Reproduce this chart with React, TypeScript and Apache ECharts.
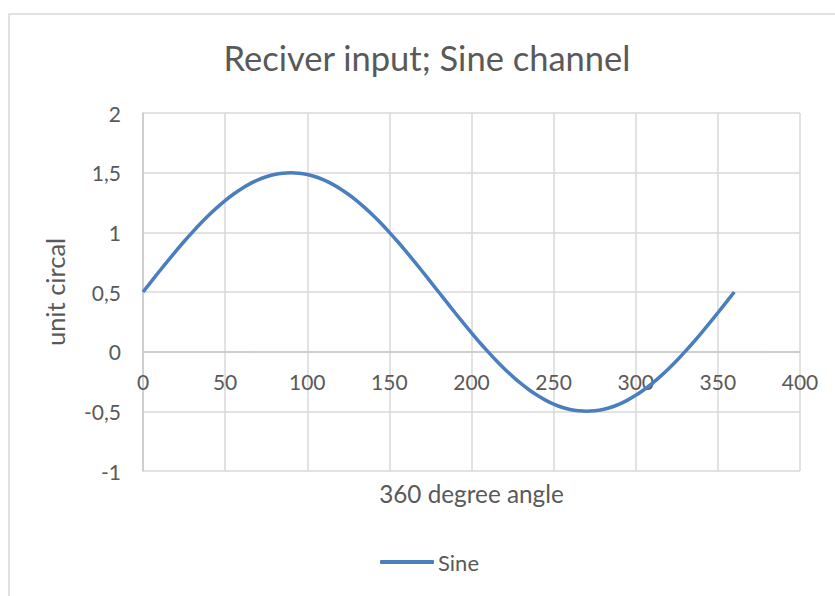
import React, { useEffect, useRef } from "react";
import * as echarts from "echarts";

const angles = [0, 5, 10, 15, 20, 25, 30, 35, 40, 45, 50, 55, 60, 65, 70, 75, 80, 85, 90, 95, 100, 105, 110, 115, 120, 125, 130, 135, 140, 145, 150, 155, 160, 165, 170, 175, 180, 185, 190, 195, 200, 205, 210, 215, 220, 225, 230, 235, 240, 245, 250, 255, 260, 265, 270, 275, 280, 285, 290, 295, 300, 305, 310, 315, 320, 325, 330, 335, 340, 345, 350, 355, 360];
const sineValues = [0.5, 0.587, 0.674, 0.759, 0.842, 0.923, 1.0, 1.074, 1.143, 1.207, 1.266, 1.319, 1.366, 1.406, 1.44, 1.466, 1.485, 1.496, 1.5, 1.496, 1.485, 1.466, 1.44, 1.406, 1.366, 1.319, 1.266, 1.207, 1.143, 1.074, 1.0, 0.923, 0.842, 0.759, 0.674, 0.587, 0.5, 0.413, 0.326, 0.241, 0.158, 0.077, 0.0, -0.074, -0.143, -0.207, -0.266, -0.319, -0.366, -0.406, -0.44, -0.466, -0.485, -0.496, -0.5, -0.496, -0.485, -0.466, -0.44, -0.406, -0.366, -0.319, -0.266, -0.207, -0.143, -0.074, 0.0, 0.077, 0.158, 0.241, 0.326, 0.413, 0.5];
const seriesName = "Sine";
const chartTitle = "Reciver input; Sine channel";
const xAxisTitle = "360 degree angle";
const yAxisTitle = "unit circal";
const yMin = -1;
const yMax = 2;

const FONT = "Lato";
const TEXT = "#595959";
const GRID = "#D9D9D9";

const GRID_TOP = 113;
const GRID_BOTTOM = 125;
const CHART_H = 596;

export default function App() {
  const ref = useRef<HTMLDivElement>(null);
  useEffect(() => {
    if (!ref.current) return;
    const chart = echarts.init(ref.current, undefined, { renderer: "svg" });
    const data = angles.map((a, i) => [a, sineValues[i]]);
    const plotH = CHART_H - GRID_TOP - GRID_BOTTOM;
    // move the horizontal axis up to the zero line (Excel style axis crossing)
    const zeroOffset = -(plotH * (0 - yMin)) / (yMax - yMin);
    chart.setOption({
      animation: false,
      backgroundColor: "#ffffff",
      textStyle: { fontFamily: FONT, color: TEXT },
      graphic: [
        {
          type: "rect",
          shape: { x: 9, y: 14, width: 850, height: 620 },
          style: { fill: "none", stroke: GRID, lineWidth: 1.5 },
          silent: true,
        },
        {
          type: "text",
          x: 427,
          y: 57,
          style: {
            text: chartTitle,
            font: `34.5px ${FONT}`,
            fill: TEXT,
            textAlign: "center",
            textVerticalAlign: "middle",
          },
        },
      ],
      grid: { left: 143, right: 35, top: GRID_TOP, bottom: GRID_BOTTOM, containLabel: false, outerBoundsMode: "none" },
      legend: {
        data: [seriesName],
        left: 375,
        top: 546,
        icon: "roundRect",
        itemWidth: 54,
        itemHeight: 4,
        itemGap: 10,
        textStyle: { fontFamily: FONT, fontSize: 22, color: TEXT, padding: [0, 0, 0, -1] },
      },
      xAxis: {
        type: "value",
        min: 0,
        max: 400,
        interval: 50,
        offset: zeroOffset,
        name: xAxisTitle,
        nameLocation: "middle",
        nameGap: 130,
        nameTextStyle: { fontFamily: FONT, fontSize: 24.3, color: TEXT },
        axisLine: { show: true, onZero: false, lineStyle: { color: "#C8C8C8", width: 1.5 } },
        axisTick: { show: false },
        axisLabel: { fontFamily: FONT, fontSize: 21, color: TEXT, margin: 19, showMinLabel: true, showMaxLabel: true },
        splitLine: { show: true, lineStyle: { color: GRID, width: 1.5 } },
      },
      yAxis: {
        type: "value",
        min: yMin,
        max: yMax,
        interval: 0.5,
        name: yAxisTitle,
        nameLocation: "middle",
        nameGap: 75,
        nameTextStyle: { fontFamily: FONT, fontSize: 25.5, color: TEXT },
        axisLine: { show: true, onZero: false, lineStyle: { color: "#C8C8C8", width: 1.5 } },
        axisTick: { show: false },
        axisLabel: {
          fontFamily: FONT,
          fontSize: 21,
          color: TEXT,
          margin: 22,
          formatter: (v: number) => String(v).replace(".", ","),
        },
        splitLine: { show: true, lineStyle: { color: GRID, width: 1.5 } },
      },
      series: [
        {
          name: seriesName,
          type: "line",
          data,
          smooth: 0.3,
          symbol: "none",
          lineStyle: { color: "#4A7EBF", width: 3.5 },
          itemStyle: { color: "#4A7EBF" },
          z: 10,
        },
      ],
    });
    return () => chart.dispose();
  }, []);
  return (
    <div
      ref={ref}
      style={{ position: "fixed", left: 0, top: 0, width: 835, height: 596 }}
    />
  );
}
